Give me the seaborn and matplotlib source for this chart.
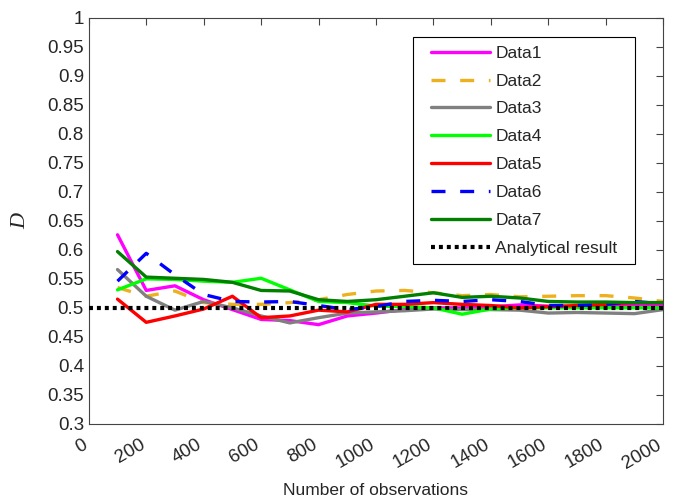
import numpy as np
import pandas as pd
import matplotlib
matplotlib.use("Agg")
import matplotlib.pyplot as plt
import matplotlib.transforms as mtrans
from matplotlib.patches import Rectangle
import seaborn as sns

# number of observations
n_obs = [100, 200, 300, 400, 500, 600, 700, 800, 900, 1000,
         1100, 1200, 1300, 1400, 1500, 1600, 1700, 1800, 1900, 2000]

data1 = [0.626, 0.530, 0.538, 0.514, 0.497, 0.480, 0.478, 0.471, 0.486, 0.491,
         0.497, 0.500, 0.500, 0.502, 0.505, 0.503, 0.502, 0.503, 0.505, 0.504]
data2 = [0.535, 0.520, 0.529, 0.509, 0.506, 0.506, 0.509, 0.514, 0.523, 0.529,
         0.530, 0.526, 0.521, 0.523, 0.519, 0.520, 0.521, 0.521, 0.517, 0.511]
data3 = [0.566, 0.520, 0.496, 0.511, 0.500, 0.486, 0.474, 0.483, 0.491, 0.493,
         0.495, 0.498, 0.497, 0.497, 0.496, 0.491, 0.492, 0.491, 0.490, 0.497]
data4 = [0.531, 0.550, 0.549, 0.546, 0.544, 0.551, 0.531, 0.511, 0.509, 0.503,
         0.502, 0.500, 0.489, 0.498, 0.500, 0.500, 0.500, 0.500, 0.500, 0.500]
data5 = [0.515, 0.475, 0.486, 0.498, 0.520, 0.483, 0.486, 0.496, 0.493, 0.506,
         0.506, 0.509, 0.506, 0.504, 0.500, 0.502, 0.504, 0.506, 0.509, 0.509]
data6 = [0.546, 0.594, 0.557, 0.523, 0.511, 0.510, 0.511, 0.504, 0.497, 0.502,
         0.511, 0.513, 0.511, 0.514, 0.511, 0.504, 0.504, 0.506, 0.511, 0.507]
data7 = [0.597, 0.553, 0.551, 0.549, 0.544, 0.530, 0.529, 0.514, 0.511, 0.514,
         0.520, 0.526, 0.518, 0.520, 0.517, 0.511, 0.510, 0.510, 0.509, 0.509]
analytical = 0.5

series_names = ["Data1", "Data2", "Data3", "Data4", "Data5", "Data6", "Data7"]
series_vals = [data1, data2, data3, data4, data5, data6, data7]
colors = ["#FF00FF", "#EDB120", "#808080", "#00FF00", "#FF0000", "#0000FF", "#007F00"]
dashed = [False, True, False, False, False, True, False]

sns.set_style("white")
plt.rcParams["font.family"] = ["Liberation Sans", "DejaVu Sans"]

fig = plt.figure(figsize=(6.83, 4.98), dpi=100)
ax = fig.add_axes([0.130, 0.149, 0.841, 0.815])

for name, vals, c, d in zip(series_names, series_vals, colors, dashed):
    df = pd.DataFrame({"n": n_obs, "D": vals})
    sns.lineplot(data=df, x="n", y="D", ax=ax, color=c, linewidth=2.4, label=name)
    if d:
        ax.lines[-1].set_dashes([4.2, 4.4])

df_a = pd.DataFrame({"n": [0, 2000], "D": [analytical, analytical]})
sns.lineplot(data=df_a, x="n", y="D", ax=ax, color="black", linewidth=3.0,
             label="Analytical result")
ax.lines[-1].set_dashes([0.95, 0.95])
ax.lines[-1].set_zorder(5)

ax.set_xlim(0, 2000)
ax.set_ylim(0.3, 1.0)
ax.set_xticks(np.arange(0, 2001, 200))
ax.set_yticks(np.arange(0.3, 1.001, 0.05))
ax.set_yticklabels(["%g" % round(v, 2) for v in np.arange(0.3, 1.001, 0.05)])
ax.tick_params(direction="in", top=True, right=True, length=5, width=0.8,
               color="#444444", labelsize=13.5, colors="#262626")
ax.tick_params(axis="x", pad=9)
shift = mtrans.ScaledTranslation(-5 / 72, 0, fig.dpi_scale_trans)
for lab in ax.get_xticklabels():
    lab.set_rotation(30)
    lab.set_ha("right")
    lab.set_rotation_mode("anchor")
    lab.set_transform(lab.get_transform() + shift)
for s in ax.spines.values():
    s.set_color("#444444")
    s.set_linewidth(0.8)

ax.set_xlabel("Number of observations", fontsize=12.5, color="#262626", labelpad=8)
ax.set_ylabel("D", fontsize=16, family="Liberation Serif", style="italic",
              color="#262626", labelpad=12)

leg = ax.legend(loc="upper right", bbox_to_anchor=(0.9355, 0.953), fontsize=12.5,
                handlelength=3.4, labelspacing=0.73, frameon=False,
                borderpad=0.5, borderaxespad=0, handletextpad=0.3)
leg.set_zorder(7)

# legend frame with wider side margins
fig.canvas.draw()
bb = leg.get_window_extent()
padx = 9
frame = Rectangle((bb.x0 - padx, bb.y0), bb.width + 2 * padx, bb.height,
                  facecolor="white", edgecolor="black", linewidth=0.8)
frame.set_transform(mtrans.IdentityTransform())
frame.set_zorder(6)
frame.set_clip_on(False)
ax.add_artist(frame)

fig.savefig("out.png", dpi=100)
